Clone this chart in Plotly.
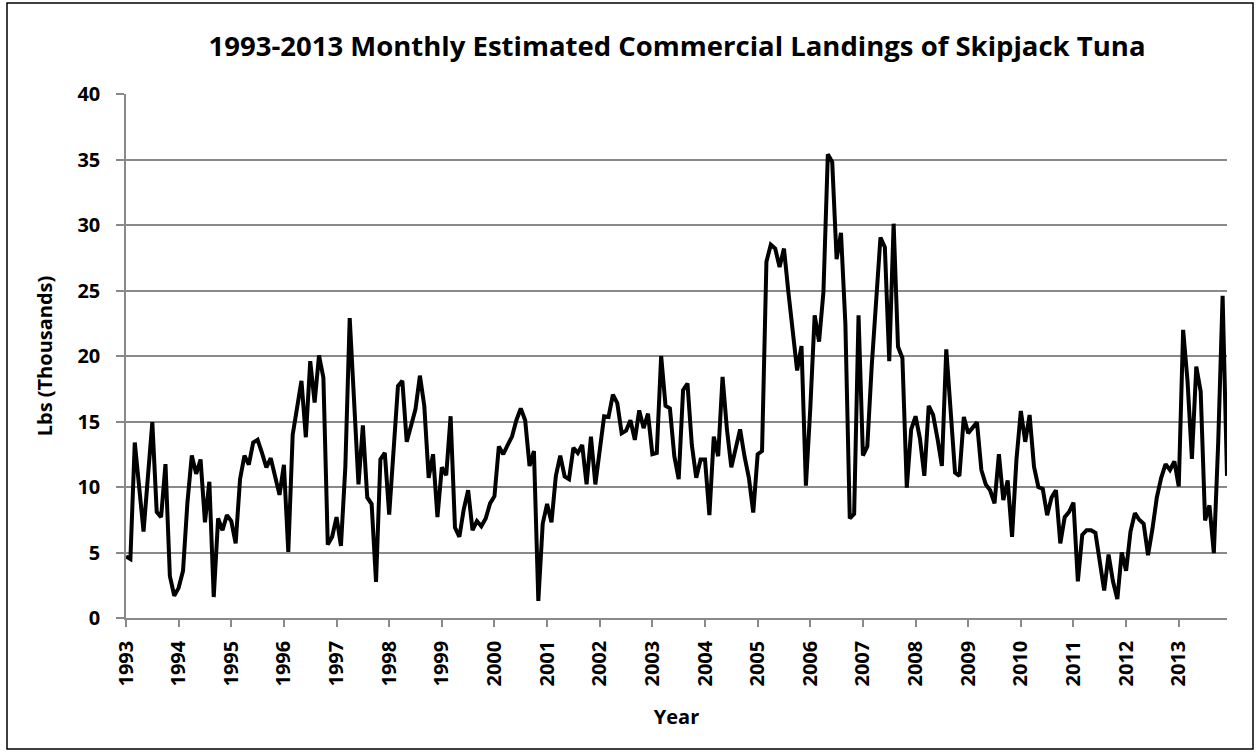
import plotly.graph_objects as go

# Monthly landings, Jan 1993 .. Dec 2013 (thousands of lbs)
y1993 = [4.7, 4.5, 13.4, 10.0, 6.6, 10.8, 14.95, 8.1, 7.7, 11.75, 3.2, 1.7]
y1994 = [2.3, 3.6, 8.8, 12.4, 11.0, 12.1, 7.3, 10.4, 1.6, 7.6, 6.7, 7.85]
y1995 = [7.4, 5.7, 10.6, 12.4, 11.7, 13.4, 13.6, 12.6, 11.5, 12.2, 10.8, 9.4]
y1996 = [11.7, 5.05, 14.0, 16.0, 18.1, 13.8, 19.6, 16.45, 20.05, 18.35, 5.6, 6.2]
y1997 = [7.7, 5.5, 11.5, 22.9, 16.5, 10.2, 14.7, 9.2, 8.7, 2.75, 12.1, 12.6]
y1998 = [7.9, 13.0, 17.7, 18.1, 13.45, 14.7, 15.95, 18.5, 16.2, 10.7, 12.5, 7.7]
y1999 = [11.5, 10.9, 15.4, 6.9, 6.2, 8.3, 9.75, 6.7, 7.4, 7.0, 7.6, 8.75]
y2000 = [9.3, 13.1, 12.5, 13.2, 13.85, 15.1, 16.0, 15.1, 11.6, 12.75, 1.3, 7.2]
y2001 = [8.7, 7.3, 10.85, 12.4, 10.8, 10.6, 13.0, 12.6, 13.2, 10.2, 13.85, 10.2]
y2002 = [12.6, 15.4, 15.35, 17.05, 16.4, 14.1, 14.3, 15.1, 13.6, 15.85, 14.5, 15.6]
y2003 = [12.5, 12.6, 20.0, 16.2, 16.0, 12.35, 10.6, 17.4, 17.9, 13.2, 10.7, 12.1]
y2004 = [12.1, 7.85, 13.85, 12.35, 18.4, 14.4, 11.5, 12.9, 14.4, 12.35, 10.7, 8.05]
y2005 = [12.5, 12.75, 27.2, 28.5, 28.2, 26.8, 28.2, 24.9, 21.9, 18.9, 20.75, 10.1]
y2006 = [16.0, 23.1, 21.1, 24.9, 35.4, 34.8, 27.4, 29.4, 22.45, 7.6, 7.95, 23.1]
y2007 = [12.4, 13.1, 19.2, 24.0, 29.05, 28.3, 19.6, 30.1, 20.7, 19.85, 9.95, 14.4]
y2008 = [15.4, 13.7, 10.85, 16.2, 15.5, 13.7, 11.6, 20.5, 15.5, 11.1, 10.85, 15.35]
y2009 = [14.1, 14.5, 14.95, 11.3, 10.2, 9.75, 8.75, 12.5, 9.0, 10.5, 6.2, 12.1]
y2010 = [15.8, 13.45, 15.5, 11.55, 10.0, 9.85, 7.85, 9.2, 9.75, 5.7, 7.7, 8.1]
y2011 = [8.8, 2.8, 6.35, 6.7, 6.7, 6.5, 4.3, 2.1, 4.85, 2.8, 1.45, 5.0]
y2012 = [3.6, 6.6, 8.0, 7.5, 7.2, 4.8, 6.8, 9.2, 10.7, 11.75, 11.3, 11.95]
y2013 = [10.05, 22.0, 18.1, 12.15, 19.2, 17.3, 7.45, 8.6, 4.95, 13.45, 24.6, 10.85]

years = list(range(1993, 2014))
year_labels = [str(y) for y in years]

values = (y1993 + y1994 + y1995 + y1996 + y1997 + y1998 + y1999 + y2000 + y2001
          + y2002 + y2003 + y2004 + y2005 + y2006 + y2007 + y2008 + y2009
          + y2010 + y2011 + y2012 + y2013)
months = list(range(len(values)))
tick_positions = [12 * k for k in range(len(years))]

FONT = "'Open Sans', 'Noto Sans', sans-serif"
GRID = "#898989"

fig = go.Figure()
fig.add_trace(go.Scatter(
    x=months, y=values, mode="lines",
    line=dict(color="#000000", width=4),
    hoverinfo="skip", showlegend=False,
))

W, H = 1257, 752
L, R, T, B = 126, 30, 94, 134
pw, ph = W - L - R, H - T - B

def px_x(px):
    return (px - L) / pw

def px_y(py):
    return (H - B - py) / ph

fig.update_layout(
    width=W, height=H,
    margin=dict(l=L, r=R, t=T, b=B, autoexpand=False),
    paper_bgcolor="white", plot_bgcolor="white",
    font=dict(family=FONT, color="#000000", size=20, weight="bold"),
    title=dict(
        text="1993-2013 Monthly Estimated Commercial Landings of Skipjack Tuna",
        x=px_x(677), xref="paper", xanchor="center",
        y=1 - 46 / H, yref="container", yanchor="middle",
        font=dict(family=FONT, size=27.5, weight="bold", color="#000000"),
    ),
    xaxis=dict(
        range=[0, len(values) - 1],
        tickmode="array", tickvals=tick_positions, ticktext=year_labels,
        tickangle=-90,
        ticks="outside", ticklen=7, tickwidth=1.5, tickcolor=GRID,
        showline=True, linecolor=GRID, linewidth=1.5,
        showgrid=False, zeroline=False,
        ticklabelstandoff=6,
        tickfont=dict(family=FONT, size=20, weight="bold"),
        title=dict(text="Year", standoff=24,
                   font=dict(family=FONT, size=20, weight="bold")),
    ),
    yaxis=dict(
        range=[0, 40], tickmode="array", tickvals=[0, 5, 10, 15, 20, 25, 30, 35, 40],
        ticks="outside", ticklen=8, tickwidth=1.5, tickcolor=GRID,
        showline=True, linecolor=GRID, linewidth=1.5,
        showgrid=True, gridcolor=GRID, gridwidth=1.5,
        zeroline=False,
        ticklabelstandoff=12,
        tickfont=dict(family=FONT, size=20, weight="bold"),
        title=dict(text="Lbs (Thousands)", standoff=19,
                   font=dict(family=FONT, size=20, weight="bold")),
    ),
    shapes=[dict(
        type="rect", xref="paper", yref="paper",
        x0=px_x(7), x1=px_x(1253), y0=px_y(749), y1=px_y(3),
        line=dict(color="#000000", width=1.5), fillcolor="rgba(0,0,0,0)",
        layer="below",
    )],
)

fig.write_html("out.html", config={"displayModeBar": False},
               post_script="document.body.style.margin='0px';")
